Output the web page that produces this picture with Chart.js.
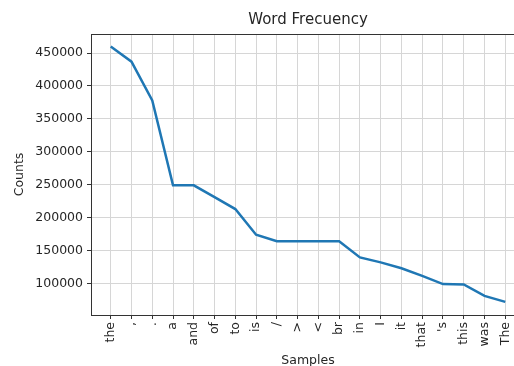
<!DOCTYPE html>
<html>
<head>
<meta charset="utf-8">
<script src="https://cdn.jsdelivr.net/npm/chart.js@4"></script>
<style>
  html, body { margin: 0; padding: 0; background: #fff; overflow: hidden; }
  #wrap { width: 514px; height: 366px; overflow: hidden; }
</style>
</head>
<body>
<div id="wrap"><canvas id="chartFreq" width="525" height="368"></canvas></div>
<script>
const words = ['the', ',', '.', 'a', 'and', 'of', 'to', 'is', '/', '>', '<', 'br',
  'in', 'I', 'it', 'that', "'s", 'this', 'was', 'The'];
const counts = [460000, 437000, 378000, 249000, 249000, 231000, 213000, 174000,
  164000, 164000, 164000, 164000, 139500, 132000, 123000, 111500, 99000, 98500, 81000, 72000];
const yTicks = [100000, 150000, 200000, 250000, 300000, 350000, 400000, 450000];

const txt = '#262626';
const font = { family: 'DejaVu Sans', size: 12.5 };

// matplotlib-like box around the axes
const frame = {
  id: 'frame',
  afterDraw(chart) {
    const { ctx, chartArea: a } = chart;
    ctx.save();
    ctx.strokeStyle = '#333';
    ctx.lineWidth = 1;
    ctx.strokeRect(a.left + 0.5, a.top + 0.5, a.right - a.left, a.bottom - a.top);
    ctx.restore();
  }
};

const ctxF = document.getElementById('chartFreq').getContext('2d');
new Chart(ctxF, {
  type: 'line',
  data: {
    datasets: [{
      label: 'Counts',
      data: words.map((w, i) => ({ x: i, y: counts[i] })),
      borderColor: '#1f77b4',
      borderWidth: 2.5,
      pointRadius: 0,
      tension: 0,
      fill: false
    }]
  },
  options: {
    responsive: false,
    animation: false,
    layout: { padding: 0 },
    scales: {
      x: {
        type: 'linear',
        min: -0.95,
        max: words.length - 1 + 0.95,
        afterBuildTicks: s => { s.ticks = words.map((w, i) => ({ value: i })); },
        afterFit: s => { s.height = 53; },
        grid: { color: '#d6d6d6', tickColor: '#333', tickLength: 4 },
        border: { display: false },
        ticks: {
          autoSkip: false,
          maxRotation: 90,
          minRotation: 90,
          padding: 3,
          color: txt,
          font,
          callback: v => words[v]
        },
        title: { display: true, text: 'Samples', color: txt, font, padding: 0 }
      },
      y: {
        min: 52000,
        max: 479000,
        afterBuildTicks: s => { s.ticks = yTicks.map(v => ({ value: v })); },
        afterFit: s => { s.width = 91; },
        grid: { color: '#d6d6d6', tickColor: '#333', tickLength: 4 },
        border: { display: false },
        ticks: { padding: 4, color: txt, font, callback: v => String(v) },
        title: { display: true, text: 'Counts', color: txt, font, padding: { top: 12.5, bottom: 0 } }
      }
    },
    plugins: {
      legend: { display: false },
      tooltip: { enabled: false },
      title: {
        display: true,
        fullSize: false,
        text: 'Word Frecuency',
        color: txt,
        font: { family: 'DejaVu Sans', size: 15, weight: 'normal' },
        padding: { top: 11, bottom: 5 }
      }
    }
  },
  plugins: [frame]
});
</script>
</body>
</html>
